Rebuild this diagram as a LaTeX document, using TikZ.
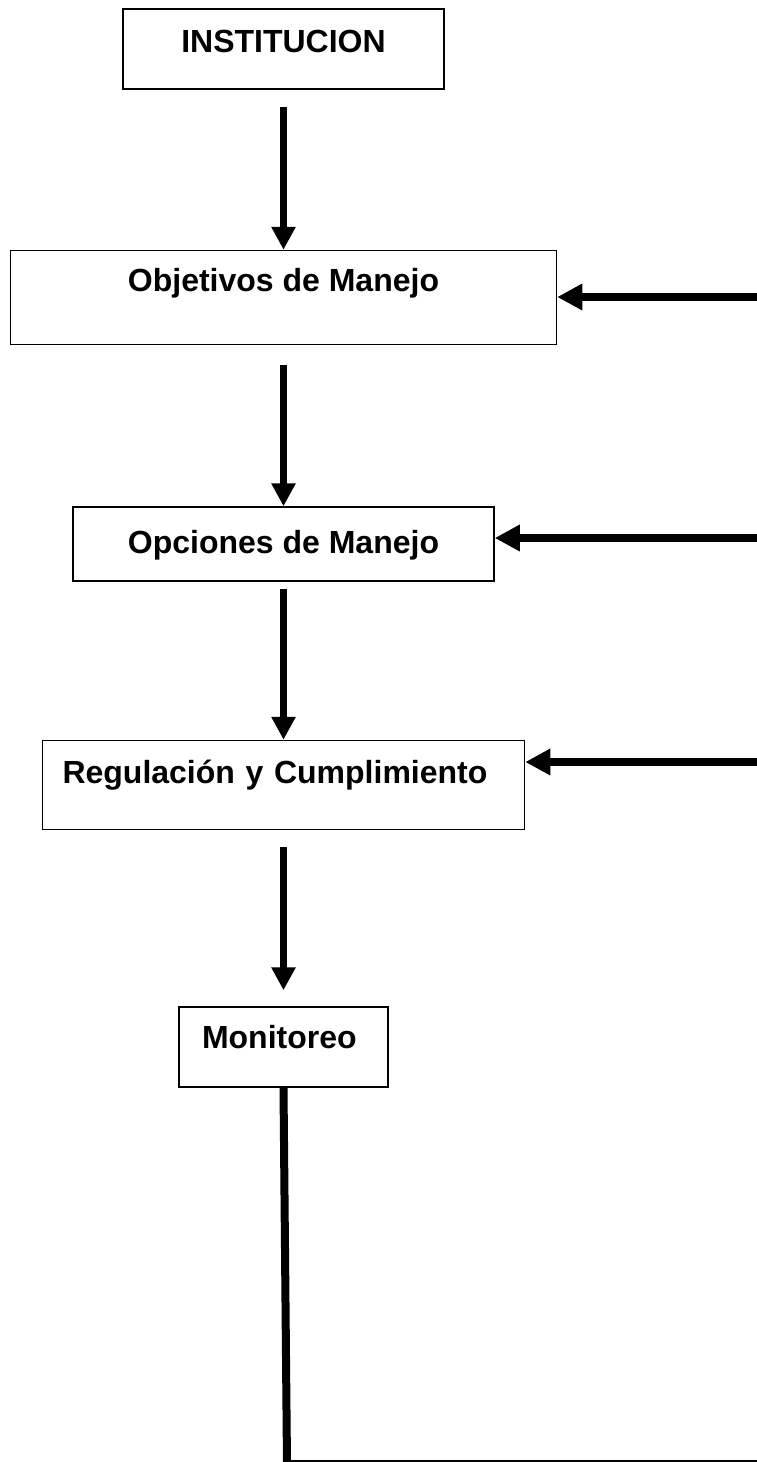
\documentclass[tikz,border=0pt]{standalone}
\usepackage{fontspec}
\setmainfont{Liberation Sans}
\usetikzlibrary{arrows.meta,positioning}

\begin{document}
\begin{tikzpicture}[
    x=1pt, y=1pt,
    node distance=160pt,
    every node/.style={font=\fontsize{32}{38}\selectfont\bfseries},
    block/.style={rectangle, draw=black, line width=1.5pt, fill=white, inner ysep=0pt, inner xsep=0pt, align=center},
    arrow/.style={-{Triangle[length=23pt, width=23pt]}, line width=7pt},
    sidearrow/.style={-{Triangle[length=25pt, width=25pt]}, line width=8pt},
    feedback/.style={line width=8pt}
]
    \useasboundingbox (0,0) rectangle (756,-1462);

    % Step 1
    \node[block, minimum width=321pt, text height=43pt, text depth=37pt] (inst) at (283.5,-49) {INSTITUCION};

    % Step 2
    \node[block, below=160pt of inst, minimum width=546pt, text height=41pt, text depth=53pt] (obj) {Objetivos de Manejo};

    % Step 3
    \node[block, below=161pt of obj, minimum width=421pt, text height=46pt, text depth=28pt] (opc) {Opciones de Manejo};

    % Step 4
    \node[block, below=158pt of opc, text width=442pt, inner xsep=20pt, align=left, text height=42.5pt, text depth=46.5pt] (reg) {Regulación y Cumplimiento};

    % Step 5
    \node[block, below=176pt of reg, text width=163pt, inner xsep=23pt, align=left, text height=41pt, text depth=39pt] (mon) {Monitoreo};

    % Flow arrows
    \draw[arrow, shorten <=17pt] (inst) -- (obj);
    \draw[arrow, shorten <=20pt] (obj) -- (opc);
    \draw[arrow, shorten <=7pt] (opc) -- (reg);
    \draw[arrow, shorten <=17pt, shorten >=16pt] (reg) -- (mon);

    % Feedback loop
    \coordinate (corner) at (287,-1464);
    \coordinate (edge) at (760,-1464);
    \draw[feedback] (mon.south) -- (corner) -- (edge);

    \coordinate (in1) at (760,-297);
    \coordinate (in2) at (760,-538);
    \coordinate (in3) at (760,-762);
    \draw[sidearrow] (in1) -- (in1 -| obj.east);
    \draw[sidearrow] (in2) -- (in2 -| opc.east);
    \draw[sidearrow] (in3) -- (in3 -| reg.east);
\end{tikzpicture}
\end{document}
